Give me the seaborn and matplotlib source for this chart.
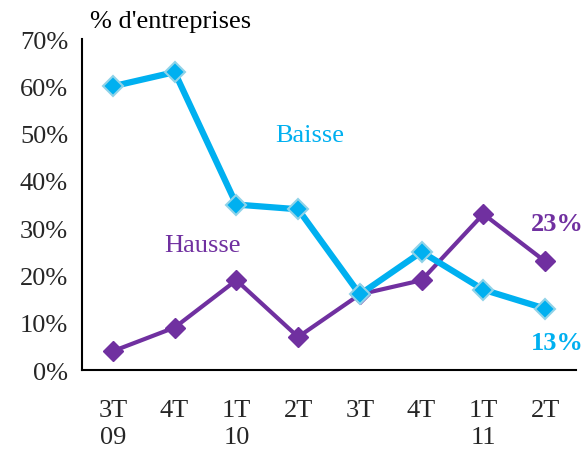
import matplotlib
matplotlib.use("Agg")
import matplotlib.pyplot as plt
import seaborn as sns
import pandas as pd

categories = ["3T\n09", "4T", "1T\n10", "2T", "3T", "4T", "1T\n11", "2T"]
baisse = [60, 63, 35, 34, 16, 25, 17, 13]
hausse = [4, 9, 19, 7, 16, 19, 33, 23]
yticks = [0, 10, 20, 30, 40, 50, 60, 70]

BLUE = "#00B0F0"
PURPLE = "#7030A0"

sns.set_theme(style="white")
plt.rcParams["font.family"] = ["Liberation Serif", "DejaVu Serif"]

df = pd.DataFrame({
    "x": list(range(len(categories))) * 2,
    "val": baisse + hausse,
    "serie": ["Baisse"] * len(baisse) + ["Hausse"] * len(hausse),
})

fig = plt.figure(figsize=(5.87, 4.52), dpi=100)
ax = fig.add_axes([0.1397, 0.179, 0.8415, 0.7325])

sns.lineplot(data=df[df.serie == "Hausse"], x="x", y="val", ax=ax, color=PURPLE,
             linewidth=3, marker="D", markersize=10, markeredgecolor=PURPLE,
             markeredgewidth=1, legend=False)
sns.lineplot(data=df[df.serie == "Baisse"], x="x", y="val", ax=ax, color=BLUE,
             linewidth=4.5, marker="D", markersize=10, markeredgecolor="#8FD3E8",
             markeredgewidth=1.5, legend=False)

FS = 19
ax.set_xlim(-0.5, len(categories) - 0.5)
ax.set_ylim(0, 70)
ax.set_yticks(yticks)
ax.set_yticklabels([f"{v}%" for v in yticks], fontsize=FS)
ax.set_xticks([i - 0.5 for i in range(len(categories) + 1)], minor=False)
ax.set_xticklabels([])
ax.set_xticks(range(len(categories)), minor=True)
ax.set_xticklabels(categories, minor=True, fontsize=FS, linespacing=1.3)
ax.tick_params(axis="x", which="major", direction="out", length=6, width=1.5, color="black")
ax.tick_params(axis="x", which="minor", length=0, pad=21)
ax.tick_params(axis="y", direction="out", length=6, width=1.5, color="black", pad=4)
ax.set_xlabel("")
ax.set_ylabel("")
sns.despine(ax=ax)
for s in ["left", "bottom"]:
    ax.spines[s].set_color("black")
    ax.spines[s].set_linewidth(1.5)

ax.grid(False)
fig.text(0.153, 0.952, "% d'entreprises", fontsize=FS, color="black", ha="left", va="center")
ax.text(3.19, 49.7, "Baisse", color=BLUE, fontsize=FS, ha="center", va="center")
ax.text(1.45, 26.4, "Hausse", color=PURPLE, fontsize=FS, ha="center", va="center")
ax.text(7.19, 30.9, f"{hausse[-1]}%", color=PURPLE, fontsize=FS,
        fontweight="bold", ha="center", va="center", clip_on=False)
ax.text(7.19, 5.9, f"{baisse[-1]}%", color=BLUE, fontsize=FS,
        fontweight="bold", ha="center", va="center", clip_on=False)

fig.savefig("out.png", dpi=100)
